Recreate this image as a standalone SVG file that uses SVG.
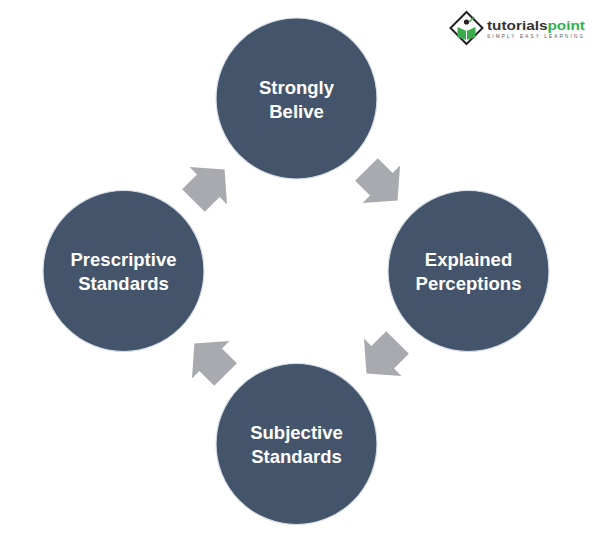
<svg xmlns="http://www.w3.org/2000/svg" width="600" height="536" viewBox="0 0 600 536">
  <style>
    .node circle { fill: #44546A; stroke: #D9DFE8; stroke-width: 1.2; }
    .node text { font-family: "Liberation Sans", Arial, sans-serif; font-weight: bold; font-size: 18.5px; fill: #FFFFFF; text-anchor: middle; }
    .arrow { fill: #A8AAAF; }
  </style>
  <defs>
    <polygon id="blockArrow" points="-22,-16 -1,-16 -1,-26.5 22,0 -1,26.5 -1,16 -22,16"/>
  </defs>
  <rect x="0" y="0" width="600" height="536" fill="#FFFFFF"/>

  <g id="logo">
    <polygon points="466.5,12 482.5,28 466.5,44 450.5,28" fill="#FFFFFF" stroke="#222222" stroke-width="2"/>
    <circle cx="466.5" cy="22" r="2.6" fill="#222222"/>
    <path d="M457.5,27 L466.5,31 L475.5,27 L475.5,37 L466.5,40 L457.5,37 Z" fill="#3BAA4A"/>
    <path d="M466.5,31 L466.5,40" stroke="#FFFFFF" stroke-width="1"/>
    <path d="M469,22 L474,17" stroke="#3BAA4A" stroke-width="1.5"/>
    <text x="487" y="30" font-family="Liberation Sans, Arial, sans-serif" font-weight="bold" font-size="13.5" textLength="98" lengthAdjust="spacingAndGlyphs"><tspan fill="#333333">tutorials</tspan><tspan fill="#2DB34A">point</tspan></text>
    <text x="487" y="38" font-family="Liberation Sans, Arial, sans-serif" font-size="4.6" fill="#555555" textLength="96" lengthAdjust="spacing">SIMPLY EASY LEARNING</text>
  </g>

  <g id="connectors">
    <use href="#blockArrow" class="arrow" transform="translate(209,185) rotate(-45)"/>
    <use href="#blockArrow" class="arrow" transform="translate(382,185) rotate(45)"/>
    <use href="#blockArrow" class="arrow" transform="translate(382,358) rotate(135)"/>
    <use href="#blockArrow" class="arrow" transform="translate(210,359) rotate(225)"/>
  </g>

  <g id="node-strongly-belive" class="node">
    <circle cx="296.5" cy="98.5" r="80.5"/>
    <text x="296.5" y="94">Strongly</text>
    <text x="296.5" y="118">Belive</text>
  </g>
  <g id="node-explained-perceptions" class="node">
    <circle cx="468.5" cy="271" r="80.5"/>
    <text x="468.5" y="266">Explained</text>
    <text x="468.5" y="290">Perceptions</text>
  </g>
  <g id="node-subjective-standards" class="node">
    <circle cx="296.5" cy="444" r="80.5"/>
    <text x="296.5" y="439">Subjective</text>
    <text x="296.5" y="463">Standards</text>
  </g>
  <g id="node-prescriptive-standards" class="node">
    <circle cx="123.5" cy="271" r="80.5"/>
    <text x="123.5" y="266">Prescriptive</text>
    <text x="123.5" y="290">Standards</text>
  </g>
</svg>
